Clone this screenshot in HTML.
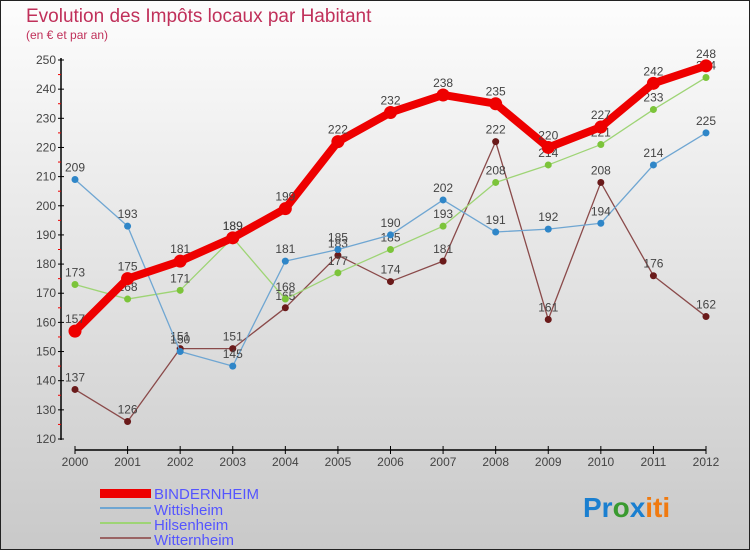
<!DOCTYPE html>
<html><head><meta charset="utf-8"><style>
body{margin:0;}
svg{display:block;font-family:"Liberation Sans",sans-serif;}
</style></head><body>
<svg id="c" width="750" height="550" viewBox="0 0 750 550" xmlns="http://www.w3.org/2000/svg">
<defs><linearGradient id="bg" x1="0" y1="0" x2="0" y2="1"><stop offset="0" stop-color="#fdfdfd"/><stop offset="1" stop-color="#c9c9c9"/></linearGradient></defs>
<rect x="0.5" y="0.5" width="749" height="549" fill="url(#bg)" stroke="#222"/>
<text x="26" y="22" font-size="19" fill="#c0305a">Evolution des Impôts locaux par Habitant</text>
<text x="26" y="39" font-size="12" fill="#c0305a">(en € et par an)</text>
<g id="axes"></g><g id="series"></g>
<g>
<rect x="100" y="489" width="51" height="9" fill="#e00"/>
<text x="154" y="499" font-size="15" fill="#55f">BINDERNHEIM</text>
<line x1="100" y1="508" x2="151" y2="508" stroke="#6fa6d2" stroke-width="2"/>
<text x="154" y="515" font-size="15" fill="#55f">Wittisheim</text>
<line x1="100" y1="523" x2="151" y2="523" stroke="#9ed475" stroke-width="2"/>
<text x="154" y="530" font-size="15" fill="#55f">Hilsenheim</text>
<line x1="100" y1="538" x2="151" y2="538" stroke="#9a6464" stroke-width="2"/>
<text x="154" y="545" font-size="15" fill="#55f">Witternheim</text>
</g>
<text x="583" y="517" font-size="28" font-weight="bold"><tspan fill="#1a7fd0">Pr</tspan><tspan fill="#3a9a30">o</tspan><tspan fill="#1a7fd0">x</tspan><tspan fill="#f07a10">iti</tspan></text>
</svg>
<script>
const years=[2000,2001,2002,2003,2004,2005,2006,2007,2008,2009,2010,2011,2012];
const yTicks=[120,130,140,150,160,170,180,190,200,210,220,230,240,250];
const bindernheim=[157,175,181,189,199,222,232,238,235,220,227,242,248];
const wittisheim=[209,193,150,145,181,185,190,202,191,192,194,214,225];
const hilsenheim=[173,168,171,189,168,177,185,193,208,214,221,233,244];
const witternheim=[137,126,151,151,165,183,174,181,222,161,208,176,162];
const NS="http://www.w3.org/2000/svg";
const X=i=>75+i*(706-75)/(years.length-1);
const Y=v=>439-(v-120)*(439-60)/130;
function mk(tag,attrs,parent,txt){const e=document.createElementNS(NS,tag);for(const k in attrs)e.setAttribute(k,attrs[k]);if(txt!==undefined)e.textContent=txt;parent.appendChild(e);return e;}
const ax=document.getElementById('axes');
let e=mk('line',{x1:61,y1:58,x2:61,y2:440,stroke:'#000','stroke-width':1.5},ax);

e=mk('line',{x1:75,y1:450,x2:706,y2:450,stroke:'#000','stroke-width':1.5},ax);

yTicks.forEach((t,i)=>{
  mk('line',{x1:58,y1:Y(t),x2:64,y2:Y(t),stroke:'#000'},ax);
  if(i<yTicks.length-1)mk('line',{x1:58,y1:Y(t+5),x2:61,y2:Y(t+5),stroke:'#e00'},ax);
  const l=mk('text',{x:56,y:Y(t)+4,'font-size':12,fill:'#444','text-anchor':'end'},ax,t);
  
});
years.forEach((yr,i)=>{
  mk('line',{x1:X(i),y1:446,x2:X(i),y2:454,stroke:'#000'},ax);
  const l=mk('text',{x:X(i),y:466,'font-size':12,fill:'#444','text-anchor':'middle'},ax,yr);
  
});
const sg=document.getElementById('series');
function series(name,vals,color,w,r,dot){
  const g=mk('g',{},sg);
  
  
  const p=mk('polyline',{points:vals.map((v,i)=>X(i)+','+Y(v)).join(' '),fill:'none',stroke:color,'stroke-width':w,'stroke-linejoin':'round'},g);
  
  
  vals.forEach((v,i)=>{
    const c=mk('circle',{cx:X(i),cy:Y(v),r:r,fill:dot},g);
    
    
    const t=mk('text',{x:X(i),y:Y(v)-8,'font-size':12,fill:'#444','text-anchor':'middle'},g,v);
    
    
  });
}
series('witternheim',witternheim,'#8a4a4a',1.3,3.5,'#6a1a1a');
series('hilsenheim',hilsenheim,'#9ed475',1.3,3.5,'#7cc43a');
series('wittisheim',wittisheim,'#6fa6d2',1.3,3.5,'#2f86c8');
series('bindernheim',bindernheim,'#e00',8,6.5,'#e00');
</script>
</body></html>
